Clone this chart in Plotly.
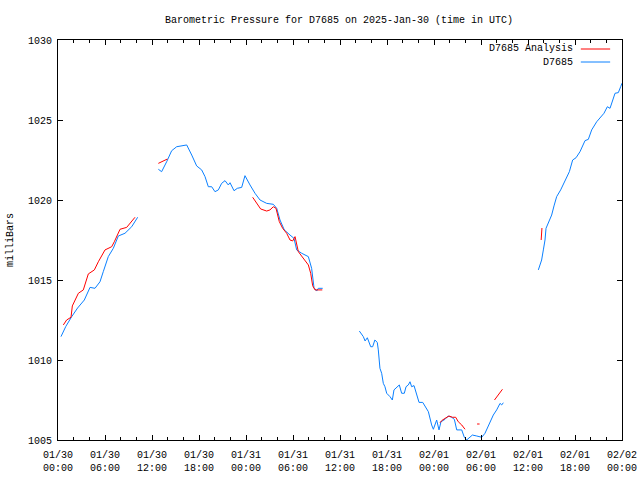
import plotly.graph_objects as go

# hours since 2025-01-30 00:00 UTC; None separates gaps
blue_hours = [0.38, 1.0, 1.75, 2.5, 3.36, 4.09, 4.72, 5.36, 5.78, 6.42, 7.06, 7.70, 8.55, 9.41, 10.17,
              None,
              12.81, 13.23, 13.87, 14.51, 15.15, 16.43, 17.07, 17.70, 18.34, 18.77, 19.19, 19.62, 20.04,
              20.47, 20.89, 21.32, 21.74, 21.96, 22.47, 22.89, 23.45, 23.87, 24.51, 25.15, 25.79, 26.64,
              27.49, 27.92, 28.34, 28.89, 29.62, 30.13, 30.47, 31.11, 31.96, 32.38, 32.68, 33.02, 33.23, 33.79,
              None,
              38.47, 38.98, 39.20, 39.49, 39.92, 40.17, 40.45, 40.76, 40.89, 41.10, 41.32, 41.53, 41.74, 41.96,
              42.38, 42.68, 42.89, 43.23, 43.57, 43.87, 44.21, 44.43, 44.72, 44.94, 45.15, 45.45, 45.79,
              46.09, 46.56, 46.85, 47.28, 47.70, 47.92, 48.34, 48.64, 48.89, 49.40, 49.83, 50.26, 50.60,
              50.77, 50.90, 51.54, 51.87, 52.17, 52.60, 52.90, 53.46, 54.10, 54.51, 55.15, 55.57, 56.00,
              56.43, 56.64, 56.85,
              None,
              61.32, 61.74, 61.96, 62.17, 62.30, 62.60, 63.02, 63.32, 63.66, 64.17, 64.72, 65.28, 65.70,
              66.13, 66.64, 67.28, 67.70, 68.13, 68.77, 69.19, 69.70, 70.13, 70.47, 71.11, 71.53, 71.83, 72.0]
blue_mb = [1011.46, 1012.10, 1012.71, 1013.25, 1013.75, 1014.54, 1014.48, 1014.89, 1015.52, 1016.46, 1016.98,
           1017.75, 1017.92, 1018.33, 1018.92,
           None,
           1021.92, 1021.77, 1022.39, 1023.08, 1023.33, 1023.44, 1022.81, 1022.13, 1021.88, 1021.46, 1020.83,
           1020.83, 1020.52, 1020.63, 1021.04, 1021.21, 1020.94, 1021.08, 1020.58, 1020.73, 1020.79, 1021.52,
           1020.94, 1020.42, 1020.00, 1019.79, 1019.73, 1019.48, 1018.75, 1018.13, 1017.81, 1017.60, 1016.88,
           1016.67, 1016.46, 1015.73, 1014.52, 1014.31, 1014.48, 1014.48,
           None,
           1011.81, 1011.46, 1011.19, 1011.39, 1010.83, 1010.83, 1011.25, 1011.10, 1010.63, 1009.48, 1009.17,
           1008.54, 1008.33, 1007.92, 1007.71, 1007.50, 1008.13, 1008.27, 1008.44, 1007.92, 1007.92, 1008.33,
           1008.44, 1008.64, 1008.33, 1008.40, 1007.81, 1007.35, 1007.35, 1007.08, 1006.77, 1005.94, 1005.67,
           1006.25, 1005.63, 1006.14, 1006.29, 1006.50, 1006.42, 1006.29, 1005.83, 1005.63, 1005.63, 1005.17,
           1005.00, 1005.17, 1005.31, 1005.25, 1005.17, 1005.42, 1006.08, 1006.56, 1006.88, 1007.29, 1007.19,
           1007.33,
           None,
           1015.63, 1016.25, 1016.88, 1017.50, 1018.23, 1018.54, 1019.06, 1019.63, 1020.21, 1020.63, 1021.25,
           1021.77, 1022.50, 1022.64, 1023.02, 1023.71, 1023.79, 1024.38, 1024.89, 1025.10, 1025.42, 1025.83,
           1025.73, 1026.67, 1026.71, 1027.08, 1027.30]

red_hours = [0.68, 1.10, 1.66, 1.83, 2.60, 3.23, 3.87, 4.64, 5.15, 6.00, 6.85, 7.19, 7.92, 8.77, 9.83,
             None,
             12.81, 13.45, 13.96,
             None,
             24.85, 25.36, 25.87, 26.64, 27.06, 27.49, 27.83, 28.25, 28.68, 29.19, 29.62, 29.96, 30.26,
             30.68, 31.32, 31.96, 32.26, 32.51, 32.81, 33.74,
             None,
             48.77, 48.98, 49.40, 49.92, 50.34, 50.77, 51.10, 51.54, 51.96,
             None,
             53.50, 53.82,
             None,
             55.72, 56.23, 56.74,
             None,
             61.68, 61.72, 61.78]
red_mb = [1012.19, 1012.50, 1012.67, 1013.38, 1014.17, 1014.38, 1015.38, 1015.63, 1016.14, 1016.88, 1017.08,
          1017.39, 1018.17, 1018.29, 1018.92,
          None,
          1022.29, 1022.46, 1022.56,
          None,
          1020.17, 1019.79, 1019.44, 1019.31, 1019.38, 1019.58, 1019.48, 1018.65, 1018.23, 1017.92, 1017.50,
          1017.44, 1017.71, 1016.77, 1016.35, 1015.94, 1015.42, 1014.64, 1014.38, 1014.38,
          None,
          1006.08, 1006.21, 1006.35, 1006.50, 1006.42, 1006.42, 1006.14, 1005.94, 1005.67,
          None,
          1006.00, 1006.00,
          None,
          1007.50, 1007.81, 1008.17,
          None,
          1017.50, 1017.85, 1018.25]

tick_hours = [0, 6, 12, 18, 24, 30, 36, 42, 48, 54, 60, 66, 72]
tick_labels = ["01/30<br>00:00", "01/30<br>06:00", "01/30<br>12:00", "01/30<br>18:00",
               "01/31<br>00:00", "01/31<br>06:00", "01/31<br>12:00", "01/31<br>18:00",
               "02/01<br>00:00", "02/01<br>06:00", "02/01<br>12:00", "02/01<br>18:00",
               "02/02<br>00:00"]
y_ticks = [1005, 1010, 1015, 1020, 1025, 1030]

RED = "#ff0000"
BLUE = "#0a80ff"
FONT = "Liberation Mono"

fig = go.Figure()
fig.add_trace(go.Scatter(x=blue_hours, y=blue_mb, mode="lines", connectgaps=False,
                         line=dict(color=BLUE, width=1), name="D7685", showlegend=False))
fig.add_trace(go.Scatter(x=red_hours, y=red_mb, mode="lines", connectgaps=False,
                         line=dict(color=RED, width=1), name="D7685 Analysis", showlegend=False))

# manual gnuplot-style legend (text right, sample line to the right)
legend_items = [("D7685 Analysis", RED, 0.9775), ("D7685", BLUE, 0.945)]
for text, col, yp in legend_items:
    fig.add_annotation(x=0.916, y=yp, xref="paper", yref="paper", text=text, showarrow=False,
                       xanchor="right", yanchor="middle", font=dict(family=FONT, size=10, color="black"))
    fig.add_shape(type="line", xref="paper", yref="paper", x0=0.927, x1=0.979, y0=yp, y1=yp,
                  line=dict(color=col, width=1))

# rotated y-axis label
fig.add_annotation(x=-48 / 564, y=0.5, xref="paper", yref="paper", text="milliBars", showarrow=False,
                   textangle=-90, xanchor="center", yanchor="middle",
                   font=dict(family=FONT, size=10, color="black"))

axis_common = dict(showline=True, linecolor="black", linewidth=1, mirror="allticks",
                   ticks="inside", tickcolor="black", showgrid=False, zeroline=False,
                   automargin=False, tickfont=dict(family=FONT, size=10, color="black"))

fig.update_layout(
    width=640, height=480,
    margin=dict(l=58, r=18, t=40, b=40, autoexpand=False),
    paper_bgcolor="white", plot_bgcolor="white",
    title=dict(text="Barometric Pressure for D7685 on 2025-Jan-30 (time in UTC)",
               x=339 / 640, xanchor="center", y=1 - 19 / 480, yanchor="middle", yref="container",
               font=dict(family=FONT, size=10, color="black")),
    xaxis=dict(range=[0, 72], tickmode="array", tickvals=tick_hours, ticktext=tick_labels,
               ticklen=5, ticklabelstandoff=5,
               minor=dict(tickmode="linear", tick0=0, dtick=2, ticklen=3,
                          ticks="inside", tickcolor="black"),
               **axis_common),
    yaxis=dict(range=[1005, 1030], tickmode="array", tickvals=y_ticks,
               ticktext=[str(v) for v in y_ticks], ticklen=5, ticklabelstandoff=3,
               **axis_common),
    showlegend=False,
)

# remove the default 8px page margin so the 640x480 figure fills the window exactly
fig.write_html("out.html", config={"displayModeBar": False},
               post_script="document.body.style.margin='0';document.body.style.overflow='hidden';")
